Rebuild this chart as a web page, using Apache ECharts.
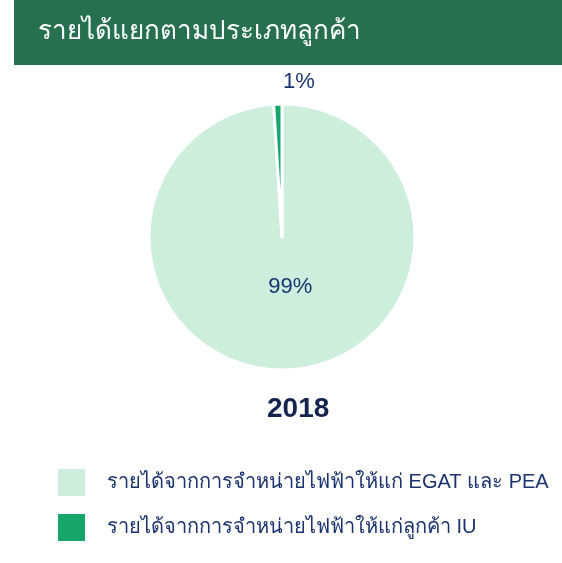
<!DOCTYPE html>
<html>
<head>
<meta charset="utf-8">
<script src="https://cdn.jsdelivr.net/npm/echarts@6/dist/echarts.min.js"></script>
<style>
html,body{margin:0;padding:0;background:#fff;}
#main{width:562px;height:563px;}
</style>
</head>
<body>
<div id="main"></div>
<script>
// ข้อมูล
var chartTitle = 'รายได้แยกตามประเภทลูกค้า';
var yearLabel = '2018';
var categories = ['รายได้จากการจำหน่ายไฟฟ้าให้แก่ EGAT และ PEA', 'รายได้จากการจำหน่ายไฟฟ้าให้แก่ลูกค้า IU'];
var shares = [99, 1];
var colors = ['#cdeedd', '#17a56c'];

var navy = '#1b3370';
var myChart = echarts.init(document.getElementById('main'));

var pieData = [];
for (var i = 0; i < categories.length; i++) {
	pieData.push({
		name: categories[i],
		value: shares[i],
		label: { position: i == 0 ? 'inside' : 'outside' }
	});
}

var option = {
	color: colors,
	animation: false,
	title: [{
		text: chartTitle,
		left: 33, top: 14,
		textStyle: { color: '#fff', fontSize: 26, fontWeight: 'normal' }
	}, {
		text: yearLabel,
		left: 262, top: 390,
		textStyle: { color: '#14244f', fontSize: 28, fontWeight: 'bold' }
	}],
	graphic: [{
		type: 'rect', z: -1,
		shape: { x: 14, y: 0, width: 548, height: 65 },
		style: { fill: '#27704f' }
	}],
	legend: {
		orient: 'vertical',
		left: 51, top: 462,
		itemWidth: 29, itemHeight: 29, itemGap: 14,
		icon: 'rect',
		textStyle: { color: navy, fontSize: 20, padding: [0, 0, 0, 16] },
		data: categories
	},
	series: [{
		type: 'pie',
		center: [282, 237],
		radius: [0, 133],
		startAngle: 90,
		itemStyle: { borderColor: '#fff', borderWidth: 3 },
		label: {
			formatter: '{c}%',
			color: navy,
			fontSize: 22
		},
		labelLine: { show: false, length: 4, length2: 0 },
		labelLayout: function (params) {
			if (params.dataIndex == 0) {
				return { dx: 6, dy: -20 };
			}
			return { dx: 42, dy: -18 };
		},
		emphasis: { disabled: true },
		data: pieData
	}]
};
myChart.setOption(option);
</script>
</body>
</html>
